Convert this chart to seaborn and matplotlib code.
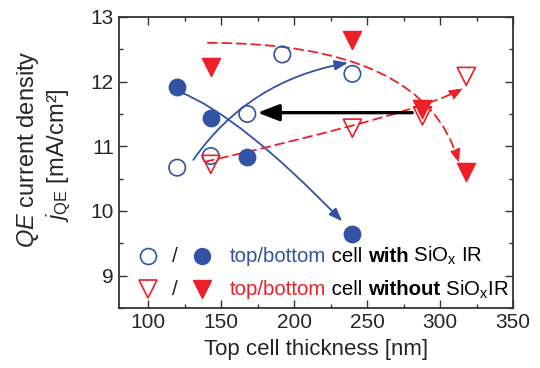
import matplotlib
matplotlib.use("Agg")
import matplotlib.pyplot as plt
import seaborn as sns
from matplotlib.offsetbox import AnnotationBbox, HPacker, TextArea

# colours
blue = "#3352a4"
red = "#ee1f26"

# === data ===
top_with_x = [120, 143, 168, 192, 240]
top_with_y = [10.67, 10.85, 11.50, 12.42, 12.12]
bottom_with_x = [120, 143, 168, 240]
bottom_with_y = [11.92, 11.44, 10.84, 9.64]
top_without_x = [143, 240, 288, 318]
top_without_y = [10.72, 11.28, 11.47, 12.08]
bottom_without_x = [143, 240, 288, 318]
bottom_without_y = [12.22, 12.65, 11.58, 10.60]

# guide arrows: start, end, angles of the quadratic guide
guide_starts = [(131, 10.79), (122, 11.84), (141, 12.60), (139, 10.76)]
guide_ends = [(237, 12.29), (233, 9.84), (313, 10.74), (316, 11.90)]
guide_angles = [(55, 10), (-22, -46), (0, 106), (13, 30)]
guide_colors = [blue, blue, red, red]
guide_styles = ["-", "-", (0, (5, 3)), (0, (5, 3))]

shift_start = (281, 11.52)
shift_end = (175, 11.52)

x_ticks = [100, 150, 200, 250, 300, 350]
y_ticks = [9, 10, 11, 12, 13]

sns.set_theme(style="ticks")
plt.rcParams["font.family"] = ["Liberation Sans", "DejaVu Sans"]
plt.rcParams["mathtext.fontset"] = "custom"
plt.rcParams["mathtext.rm"] = "Liberation Sans"
plt.rcParams["mathtext.it"] = "Liberation Sans:italic"
plt.rcParams["mathtext.bf"] = "Liberation Sans:bold"

fig = plt.figure(figsize=(5.4, 3.68), dpi=100)
ax = fig.add_axes([0.22, 0.163, 0.73, 0.791])

# === guides ===
for (x0, y0), (x1, y1), (a, b), col, ls in zip(
    guide_starts, guide_ends, guide_angles, guide_colors, guide_styles
):
    _ = ax.annotate(
        "",
        xy=(x1, y1),
        xytext=(x0, y0),
        arrowprops=dict(
            arrowstyle="-|>,head_length=0.4,head_width=0.15",
            connectionstyle=f"angle3,angleA={a},angleB={b}",
            color=col,
            lw=1.3,
            ls=ls,
            mutation_scale=20,
            shrinkA=0,
            shrinkB=0,
        ),
    )

_ = ax.annotate(
    "",
    xy=shift_end,
    xytext=shift_start,
    arrowprops=dict(
        arrowstyle="-|>,head_length=0.65,head_width=0.25",
        color="black",
        lw=2.4,
        mutation_scale=20,
        shrinkA=0,
        shrinkB=0,
    ),
)

# === points ===
_ = sns.scatterplot(x=top_with_x, y=top_with_y, marker="o", s=140,
                    facecolor="none", edgecolor=blue, linewidth=1.2, ax=ax, zorder=3)
_ = sns.scatterplot(x=bottom_with_x, y=bottom_with_y, marker="o", s=140,
                    facecolor=blue, edgecolor=blue, linewidth=1.0, ax=ax, zorder=3)
_ = sns.scatterplot(x=top_without_x, y=top_without_y, marker="v", s=170,
                    facecolor="none", edgecolor=red, linewidth=1.2, ax=ax, zorder=3)
_ = sns.scatterplot(x=bottom_without_x, y=bottom_without_y, marker="v", s=170,
                    facecolor=red, edgecolor=red, linewidth=1.0, ax=ax, zorder=3)

# === legend (hand made) ===
rows_y = [0.178, 0.064]
row_markers = [("o", blue), ("v", red)]
for ry, (mk, col) in zip(rows_y, row_markers):
    ms = 12.5 if mk == "v" else 11.5
    ax.plot(0.074, ry, marker=mk, ms=ms, mfc="none", mec=col,
            mew=1.2, transform=ax.transAxes, clip_on=False)
    ax.text(0.141, ry, "/", fontsize=15, ha="center", va="center", transform=ax.transAxes)
    ax.plot(0.211, ry, marker=mk, ms=ms, mfc=col, mec=col,
            transform=ax.transAxes, clip_on=False)

row_parts = [
    [("top/bottom", blue, "normal"), (" cell ", "black", "normal"),
     ("with", "black", "bold"), (" SiO$_{\\rm x}$ IR", "black", "normal")],
    [("top/bottom", red, "normal"), (" cell ", "black", "normal"),
     ("without", "black", "bold"), (" SiO$_{\\rm x}$IR", "black", "normal")],
]
for ry, parts in zip(rows_y, row_parts):
    areas = [TextArea(t, textprops=dict(color=c, fontweight=w, fontsize=14.7))
             for t, c, w in parts]
    box = HPacker(children=areas, align="baseline", pad=0, sep=0)
    ab = AnnotationBbox(box, (0.281, ry), xycoords="axes fraction",
                        box_alignment=(0, 0.5), frameon=False, pad=0)
    ax.add_artist(ab)

# === axes ===
ax.set_xlim(80, 350)
ax.set_ylim(8.5, 13)
ax.set_xticks(x_ticks)
ax.set_yticks(y_ticks)
ax.set_xticks([x + 25 for x in [75] + x_ticks[:-1]], minor=True)
ax.set_yticks([y + 0.5 for y in [8] + y_ticks[:-1]], minor=True)
ax.tick_params(which="both", direction="in", top=True, right=True, labelsize=15,
               width=1.0, color="#333333")
ax.tick_params(which="major", length=6)
ax.tick_params(which="minor", length=3)
for sp in ax.spines.values():
    sp.set_linewidth(1.3)
    sp.set_color("#333333")

ax.set_xlabel("Top cell thickness [nm]", fontsize=16, labelpad=5)
fig.text(0.052, 0.595, "$QE$ current density", rotation=90, fontsize=17,
         ha="center", va="center")
fig.text(0.108, 0.579, "$j_{\\rm QE}$ [mA/cm²]", rotation=90, fontsize=17,
         ha="center", va="center")

fig.savefig("out.png", dpi=100)
